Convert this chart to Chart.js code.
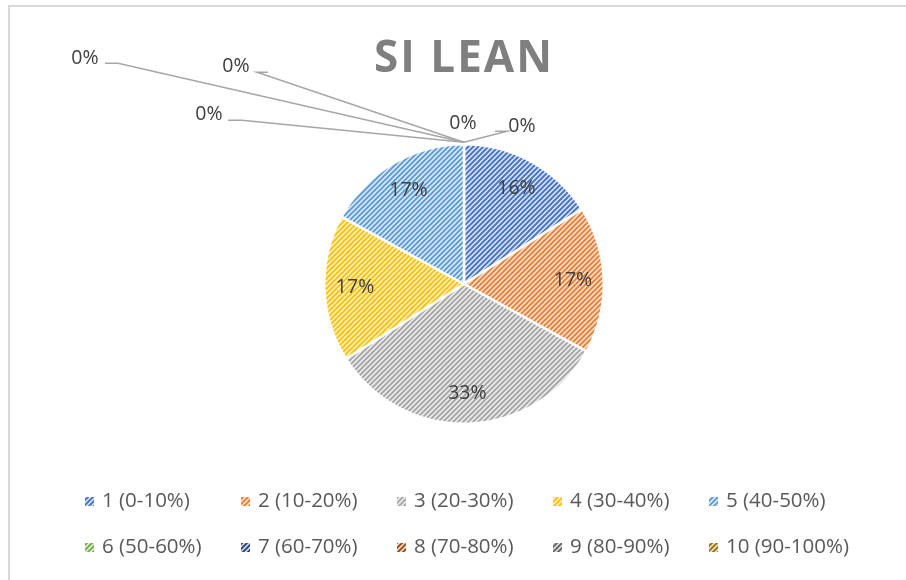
<!DOCTYPE html>
<html>
<head>
<meta charset="utf-8">
<script src="https://cdn.jsdelivr.net/npm/chart.js@4.4.1/dist/chart.umd.min.js"></script>
<style>
  body { margin: 0; background: #fff; }
  #wrap { width: 906px; height: 580px; }
</style>
</head>
<body>
<div id="wrap"><canvas id="pie" width="906" height="580"></canvas></div>
<script>
// data
const categories = ['1 (0-10%)', '2 (10-20%)', '3 (20-30%)', '4 (30-40%)', '5 (40-50%)',
    '6 (50-60%)', '7 (60-70%)', '8 (70-80%)', '9 (80-90%)', '10 (90-100%)'];
const shares = [16, 17, 33, 17, 17, 0, 0, 0, 0, 0];
const colors = ['#4472C4', '#ED7D31', '#A5A5A5', '#FFC000', '#5B9BD5',
    '#70AD47', '#264478', '#9E480E', '#636363', '#997300'];
const chartTitle = 'SI LEAN';

// where excel put the 0% labels, relative to the top of the pie
const zeroLabelSpots = [
    { tx: -1, ty: -19, line: null },
    { tx: 58, ty: -16, line: [[43, -11], [31, -11]] },
    { tx: -255, ty: -28, line: [[-222, -22], [-236, -22]] },
    { tx: -228, ty: -76, line: [[-207, -70], [-196, -70]] },
    { tx: -379, ty: -84, line: [[-346, -79], [-359, -79]] },
];

function tint(hex, amt) {
    const n = parseInt(hex.slice(1), 16);
    const r = n >> 16, g = (n >> 8) & 255, b = n & 255;
    const m = c => Math.round(c + (255 - c) * amt);
    return 'rgb(' + m(r) + ',' + m(g) + ',' + m(b) + ')';
}

function makeHatch(color) {
    const size = 5;
    const c = document.createElement('canvas');
    c.width = size; c.height = size;
    const g = c.getContext('2d');
    g.fillStyle = tint(color, 0.78);
    g.fillRect(0, 0, size, size);
    g.strokeStyle = color;
    g.lineWidth = 1.9;
    g.beginPath();
    g.moveTo(-1, size + 1); g.lineTo(size + 1, -1);
    g.moveTo(-1, 1); g.lineTo(1, -1);
    g.moveTo(size - 1, size + 1); g.lineTo(size + 1, size - 1);
    g.stroke();
    return g.createPattern(c, 'repeat');
}

const hatches = colors.map(makeHatch);

const frameAndTitle = {
    id: 'frameAndTitle',
    beforeDraw(chart) {
        const ctx = chart.ctx;
        ctx.save();
        ctx.strokeStyle = '#d9d9d9';
        ctx.lineWidth = 2;
        ctx.beginPath();
        ctx.moveTo(9, 580);
        ctx.lineTo(9, 6);
        ctx.lineTo(906, 6);
        ctx.stroke();
        ctx.font = 'bold 44px "Open Sans"';
        ctx.letterSpacing = '2px';
        ctx.fillStyle = '#7f7f7f';
        ctx.textAlign = 'center';
        ctx.textBaseline = 'alphabetic';
        ctx.fillText(chartTitle, 464, 72);
        ctx.restore();
    }
};

const sliceLabels = {
    id: 'sliceLabels',
    afterDatasetsDraw(chart) {
        const ctx = chart.ctx;
        const meta = chart.getDatasetMeta(0);
        const data = chart.data.datasets[0].data;
        ctx.save();
        ctx.font = '19.5px "Open Sans"';
        ctx.fillStyle = '#404040';
        ctx.textAlign = 'center';
        ctx.textBaseline = 'middle';
        let z = 0;
        meta.data.forEach((arc, i) => {
            const p = arc.getProps(['x', 'y', 'startAngle', 'endAngle', 'outerRadius'], true);
            const txt = data[i] + '%';
            if (data[i] > 0) {
                const mid = (p.startAngle + p.endAngle) / 2;
                const d = p.outerRadius * 0.78;
                ctx.fillText(txt, p.x + Math.cos(mid) * d, p.y + Math.sin(mid) * d);
            } else {
                const spot = zeroLabelSpots[z++];
                const ax = p.x + Math.cos(p.endAngle) * p.outerRadius;
                const ay = p.y + Math.sin(p.endAngle) * p.outerRadius - 2;
                if (spot.line) {
                    ctx.strokeStyle = '#a6a6a6';
                    ctx.lineWidth = 1.5;
                    ctx.beginPath();
                    ctx.moveTo(ax, ay);
                    spot.line.forEach(pt => ctx.lineTo(ax + pt[0], ay + pt[1]));
                    ctx.stroke();
                }
                ctx.fillText(txt, ax + spot.tx, ay + spot.ty);
            }
        });
        ctx.restore();
    }
};

const gridLegend = {
    id: 'gridLegend',
    afterDraw(chart) {
        const ctx = chart.ctx;
        ctx.save();
        ctx.font = '20.5px "Open Sans"';
        ctx.textBaseline = 'middle';
        categories.forEach((name, i) => {
            const col = i % 5, row = Math.floor(i / 5);
            const x = 85 + col * 156;
            const y = 501 + row * 46;
            ctx.fillStyle = hatches[i];
            ctx.fillRect(x, y - 4, 9, 9);
            ctx.fillStyle = '#595959';
            ctx.fillText(name, x + 17, y);
        });
        ctx.restore();
    }
};

new Chart(document.getElementById('pie'), {
    type: 'pie',
    data: {
        labels: categories,
        datasets: [{
            data: shares,
            backgroundColor: hatches,
            borderColor: '#ffffff',
            borderWidth: 2.5,
        }]
    },
    options: {
        responsive: false,
        animation: false,
        layout: { padding: { top: 143, bottom: 155, left: 323, right: 301 } },
        plugins: {
            legend: { display: false },
            title: { display: false },
            tooltip: { enabled: false },
        }
    },
    plugins: [frameAndTitle, sliceLabels, gridLegend]
});
</script>
</body>
</html>
